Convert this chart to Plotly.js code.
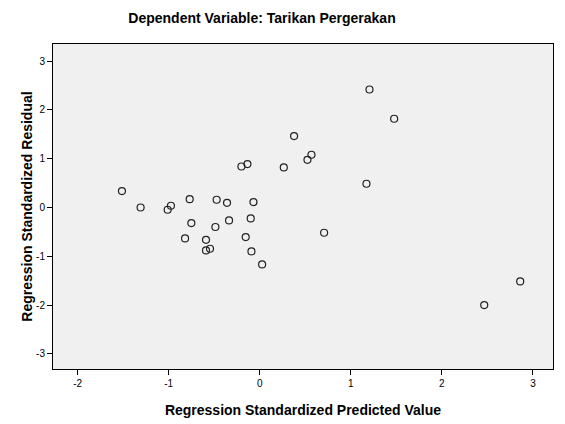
<!DOCTYPE html>
<html>
<head>
<meta charset="utf-8">
<script src="https://cdn.plot.ly/plotly-3.0.1.min.js"></script>
<style>html,body{margin:0;padding:0;background:#fff;}#chart{width:565px;height:424px;}</style>
</head>
<body>
<div id="chart"></div>
<script>
const predicted = [-1.513, -1.308, -1.011, -0.975, -0.769, -0.473, -0.359, -0.069,
  -0.751, -0.487, -0.337, -0.099, -0.820, -0.590, -0.590, -0.546, -0.154, -0.091,
  0.026, -0.201, -0.135, 0.264, 0.524, 0.568, 0.707, 0.377, 1.205, 1.476, 1.172,
  2.860, 2.465];
const residual = [0.336, 0.000, -0.047, 0.035, 0.170, 0.158, 0.096, 0.110,
  -0.320, -0.400, -0.266, -0.225, -0.635, -0.662, -0.881, -0.846, -0.607, -0.900,
  -1.168, 0.840, 0.889, 0.820, 0.977, 1.080, -0.518, 1.463, 2.418, 1.818, 0.486,
  -1.516, -2.000];
const xTickVals = [-2, -1, 0, 1, 2, 3];
const xTickText = ["-2", "-1", "0", "1", "2", "3"];
const yTickVals = [-3, -2, -1, 0, 1, 2, 3];
const yTickText = ["-3", "-2", "-1", "0", "1", "2", "3"];

const trace = {
  x: predicted, y: residual, type: 'scatter', mode: 'markers',
  marker: {symbol: 'circle-open', size: 7, color: '#222', line: {width: 1.2}},
  hoverinfo: 'none'
};
const font = 'Arial, "Liberation Sans", sans-serif';
const layout = {
  width: 565, height: 424,
  margin: {l: 53, r: 12, t: 44, b: 55},
  paper_bgcolor: '#ffffff', plot_bgcolor: '#f0f0f0',
  showlegend: false,
  font: {family: font, color: '#000'},
  xaxis: {
    range: [-2.27, 3.22], tickvals: xTickVals, ticktext: xTickText,
    showgrid: false, zeroline: false, showline: true, mirror: true,
    linecolor: '#000', linewidth: 1, ticks: 'outside', ticklen: 5, tickcolor: '#000',
    tickfont: {size: 10, family: font},
    title: {text: '<b>Regression Standardized Predicted Value</b>', font: {size: 14, family: font}, standoff: 17}
  },
  yaxis: {
    range: [-3.31, 3.35], tickvals: yTickVals, ticktext: yTickText,
    showgrid: false, zeroline: false, showline: true, mirror: true,
    linecolor: '#000', linewidth: 1, ticks: 'outside', ticklen: 5, tickcolor: '#000',
    tickfont: {size: 10, family: font},
    title: {text: '<b>Regression Standardized Residual</b>', font: {size: 14, family: font}, standoff: 0}
  },
  title: {
    text: '<b>Dependent Variable: Tarikan Pergerakan</b>',
    font: {size: 14, family: font},
    x: 262 / 565, xanchor: 'center', xref: 'container',
    y: 1 - 18 / 424, yanchor: 'middle', yref: 'container'
  }
};
Plotly.newPlot('chart', [trace], layout, {staticPlot: true, displayModeBar: false});
</script>
</body>
</html>
